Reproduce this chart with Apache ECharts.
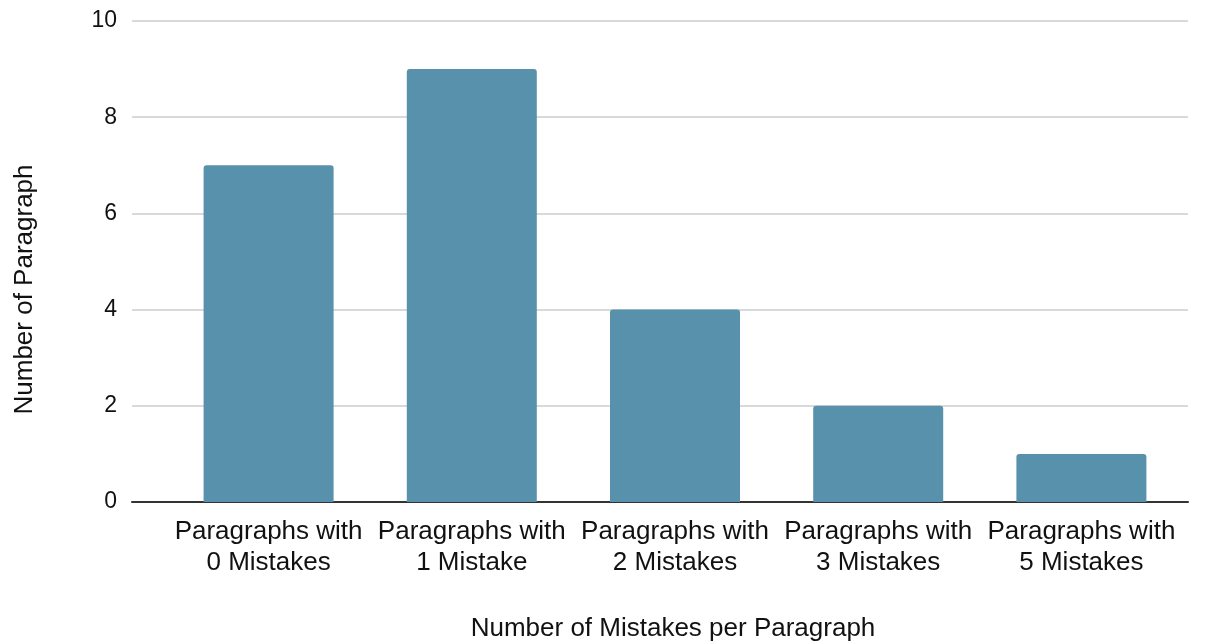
<!DOCTYPE html>
<html><head><meta charset="utf-8">
<script src="https://cdn.jsdelivr.net/npm/echarts@6/dist/echarts.min.js"></script>
<style>html,body{margin:0;padding:0;background:#fff}#c{width:1223px;height:644px}</style>
</head><body><div id="c"></div>
<script>
const categories = ["Paragraphs with\n0 Mistakes","Paragraphs with\n1 Mistake","Paragraphs with\n2 Mistakes","Paragraphs with\n3 Mistakes","Paragraphs with\n5 Mistakes"];
const values = [7, 9, 4, 2, 1];
const yTicks = {min: 0, max: 10, interval: 2};
const xTitle = "Number of Mistakes per Paragraph";
const yTitle = "Number of Paragraph";
const font = "Liberation Sans, Arial, sans-serif";
const txt = '#111111';
const chart = echarts.init(document.getElementById('c'));
chart.setOption({
  animation: false,
  grid: [
    {left: 132, right: 35, top: 21, bottom: 142, outerBoundsMode: 'none', containLabel: false},
    {left: 167, right: 40, top: 21, bottom: 142, outerBoundsMode: 'none', containLabel: false}
  ],
  xAxis: [
    {gridIndex: 0, type: 'value', min: 0, max: 1, show: true,
     axisLine: {show: true, onZero: false, lineStyle: {color: '#333', width: 2}},
     axisTick: {show: false}, axisLabel: {show: false}, splitLine: {show: false}},
    {gridIndex: 1, type: 'category', data: categories,
     name: xTitle, nameLocation: 'middle', nameGap: 114,
     nameTextStyle: {fontFamily: font, fontSize: 26, color: txt, padding: [0,4,0,0]},
     axisLine: {show: false},
     axisTick: {show: false},
     axisLabel: {fontFamily: font, fontSize: 26, color: txt, lineHeight: 31, margin: 14, interval: 0}}
  ],
  yAxis: [
    {gridIndex: 0, type: 'value', min: yTicks.min, max: yTicks.max, interval: yTicks.interval,
     name: yTitle, nameLocation: 'middle', nameGap: 94,
     nameTextStyle: {fontFamily: font, fontSize: 26, color: txt, padding: [0,0,0,-56]},
     axisLine: {show: false}, axisTick: {show: false},
     axisLabel: {fontFamily: font, fontSize: 23, color: txt, margin: 15},
     splitLine: {lineStyle: {color: '#cccccc', width: 1.5}}},
    {gridIndex: 1, type: 'value', min: yTicks.min, max: yTicks.max, interval: yTicks.interval, show: false,
     splitLine: {show: false}}
  ],
  series: [{
    type: 'bar', data: values, barWidth: 130, xAxisIndex: 1, yAxisIndex: 1, z: 1,
    itemStyle: {color: '#5891ab', borderRadius: [3,3,0,0]}
  }]
});
</script></body></html>
